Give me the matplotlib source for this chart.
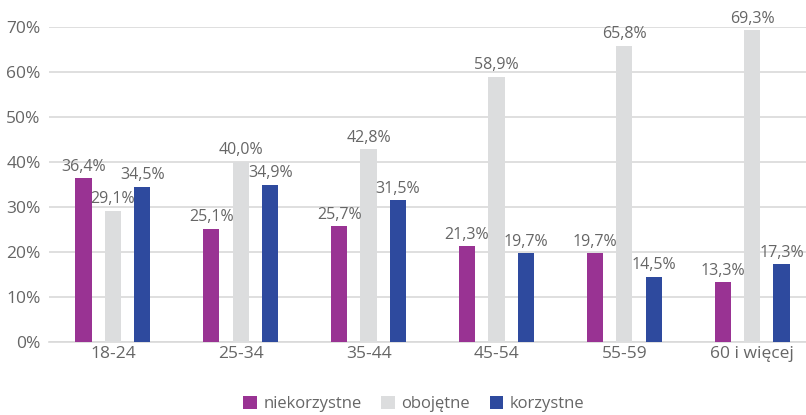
import numpy as np
import matplotlib.pyplot as plt

groups = ['18-24', '25-34', '35-44', '45-54', '55-59', '60 i więcej']
niekorzystne = [36.4, 25.1, 25.7, 21.3, 19.7, 13.3]
obojetne = [29.1, 40.0, 42.8, 58.9, 65.8, 69.3]
korzystne = [34.5, 34.9, 31.5, 19.7, 14.5, 17.3]
series_names = ['niekorzystne', 'obojętne', 'korzystne']
colors = ['#993393', '#DCDDDE', '#2E4A9E']

plt.rcParams['font.family'] = ['Open Sans', 'DejaVu Sans']
txt = '#666666'

fig = plt.figure(figsize=(8.06, 4.15), dpi=100)
ax = fig.add_axes([49 / 806, 1 - 342 / 415, 767 / 806, (342 - 27) / 415])

x = np.arange(len(groups))
w = 0.127
step = 0.23
for i, (vals, name, c) in enumerate(zip([niekorzystne, obojetne, korzystne], series_names, colors)):
    pos = x + (i - 1) * step
    ax.bar(pos, vals, width=w, color=c, label=name, zorder=3)
    for p, v in zip(pos, vals):
        ax.text(p, v + 0.8, f'{v:.1f}%'.replace('.', ','), ha='center', va='bottom',
                fontsize=11.5, color=txt, clip_on=False, zorder=4)

ax.set_xlim(-0.5, len(groups) - 0.5)
ax.set_ylim(0, 70)
ax.set_yticks(range(0, 71, 10))
ax.set_yticklabels([f'{t}%' for t in range(0, 71, 10)])
ax.set_xticks(x)
ax.set_xticklabels(groups)
ax.tick_params(axis='both', length=0, labelsize=12.5, colors=txt)
ax.tick_params(axis='y', pad=6)
ax.tick_params(axis='x', pad=3)
ax.grid(axis='y', color='#D9D9D9', linewidth=1.2, zorder=0)
for s in ['top', 'right', 'left']:
    ax.spines[s].set_visible(False)
ax.spines['bottom'].set_color('#D9D9D9')
ax.spines['bottom'].set_linewidth(1.2)

fig.legend(loc='center', bbox_to_anchor=(414 / 806, 1 - 404 / 415), ncol=3, frameon=False,
           fontsize=12, labelcolor=txt, handlelength=0.8, handleheight=0.8,
           handletextpad=0.4, columnspacing=1.2)

fig.savefig('out.png', dpi=100)
